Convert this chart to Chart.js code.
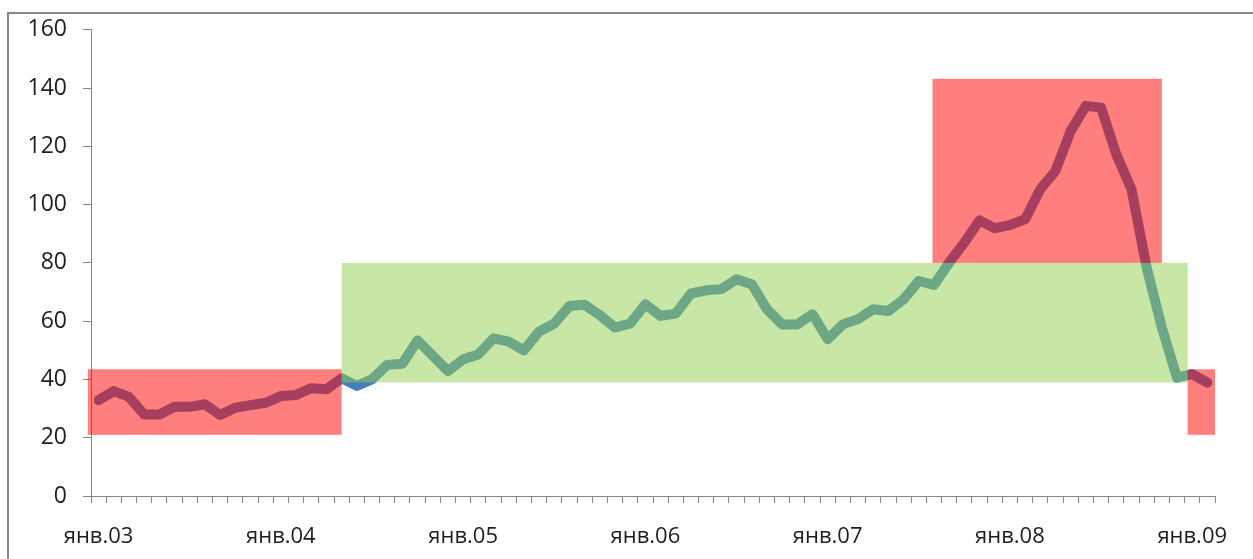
<!DOCTYPE html>
<html>
<head>
<meta charset="utf-8">
<script src="https://cdn.jsdelivr.net/npm/chart.js@4"></script>
<style>
  html, body { margin: 0; padding: 0; background: #fff; }
  #wrap { position: relative; width: 1253px; height: 559px; }
</style>
</head>
<body>
<div id="wrap"><canvas id="c" width="1253" height="559"></canvas></div>
<script>
// Monthly categories: Jan 2003 .. Feb 2009
const months = [
  '2003-01','2003-02','2003-03','2003-04','2003-05','2003-06','2003-07','2003-08','2003-09','2003-10','2003-11','2003-12',
  '2004-01','2004-02','2004-03','2004-04','2004-05','2004-06','2004-07','2004-08','2004-09','2004-10','2004-11','2004-12',
  '2005-01','2005-02','2005-03','2005-04','2005-05','2005-06','2005-07','2005-08','2005-09','2005-10','2005-11','2005-12',
  '2006-01','2006-02','2006-03','2006-04','2006-05','2006-06','2006-07','2006-08','2006-09','2006-10','2006-11','2006-12',
  '2007-01','2007-02','2007-03','2007-04','2007-05','2007-06','2007-07','2007-08','2007-09','2007-10','2007-11','2007-12',
  '2008-01','2008-02','2008-03','2008-04','2008-05','2008-06','2008-07','2008-08','2008-09','2008-10','2008-11','2008-12',
  '2009-01','2009-02'
];
// Tick labels shown at each January
const janLabels = ['янв.03','янв.04','янв.05','янв.06','янв.07','янв.08','янв.09'];

// Price series
const prices = [
  32.9, 36.0, 34.0, 28.0, 28.0, 30.6, 30.6, 31.5, 27.8, 30.3, 31.2, 32.0,
  34.3, 34.7, 37.0, 36.6, 40.4, 37.8, 40.0, 45.0, 45.4, 53.4, 48.1, 42.9,
  46.9, 48.6, 54.1, 53.0, 50.0, 56.4, 59.2, 65.2, 65.6, 62.1, 57.8, 59.2,
  65.8, 61.8, 62.6, 69.5, 70.6, 71.0, 74.4, 72.7, 64.1, 58.9, 58.9, 62.4,
  53.8, 58.9, 60.7, 64.1, 63.5, 67.5, 73.8, 72.4, 80.1, 87.0, 94.6, 91.9,
  93.0, 95.0, 105.3, 111.6, 125.3, 133.9, 133.3, 117.3, 105.3, 78.4, 57.8, 40.6,
  41.8, 38.9
];

// Highlight zones, in category-index units (x) and value units (y)
const zoneXStart = [-0.7, 16.0, 54.9, 71.7];
const zoneXEnd   = [16.0, 71.7, 70.0, 73.5];
const zoneYLow   = [21.0, 39.0, 80.0, 21.0];
const zoneYHigh  = [43.5, 80.0, 143.2, 43.5];
const zoneColors = ['rgba(255,0,0,0.5)','rgba(146,208,80,0.5)','rgba(255,0,0,0.5)','rgba(255,0,0,0.5)'];

const yTicks = [0, 20, 40, 60, 80, 100, 120, 140, 160];

const FONT = "'Open Sans', 'DejaVu Sans', sans-serif";
const AXIS = '#868686';

const zonesPlugin = {
  id: 'zones',
  afterDatasetsDraw(chart) {
    const {ctx, scales: {x, y}} = chart;
    ctx.save();
    for (let i = 0; i < zoneXStart.length; i++) {
      const x0 = x.getPixelForValue(zoneXStart[i]);
      const x1 = x.getPixelForValue(zoneXEnd[i]);
      const y0 = y.getPixelForValue(zoneYHigh[i]);
      const y1 = y.getPixelForValue(zoneYLow[i]);
      ctx.fillStyle = zoneColors[i];
      ctx.fillRect(x0, y0, x1 - x0, y1 - y0);
    }
    ctx.restore();
  }
};

const framePlugin = {
  id: 'frame',
  beforeDraw(chart) {
    const ctx = chart.ctx;
    ctx.save();
    ctx.strokeStyle = '#898989';
    ctx.lineWidth = 2;
    ctx.beginPath();
    ctx.moveTo(8, 600);
    ctx.lineTo(8, 13);
    ctx.lineTo(1300, 13);
    ctx.stroke();
    ctx.restore();
  }
};

new Chart(document.getElementById('c'), {
  type: 'line',
  data: {
    labels: months,
    datasets: [{
      data: prices,
      borderColor: '#4A7EBB',
      borderWidth: 10,
      borderCapStyle: 'round',
      borderJoinStyle: 'round',
      pointRadius: 0,
      tension: 0,
      fill: false
    }]
  },
  options: {
    responsive: false,
    animation: false,
    events: [],
    layout: { padding: { left: 0, right: 38, top: 29, bottom: 0 } },
    plugins: { legend: { display: false }, tooltip: { enabled: false } },
    scales: {
      x: {
        type: 'category',
        offset: true,
        border: { color: AXIS, width: 1 },
        grid: { offset: true, drawOnChartArea: false, drawTicks: true, tickLength: 7, color: AXIS, lineWidth: 1 },
        ticks: {
          autoSkip: false, maxRotation: 0, minRotation: 0, padding: 21,
          color: '#1e1e1e', font: { family: FONT, size: 22 },
          callback: (v, i) => (i % 12 === 0 ? janLabels[i / 12] : '')
        },
        afterFit(s) { s.height = 63; }
      },
      y: {
        min: 0, max: 160,
        border: { color: AXIS, width: 1 },
        grid: { drawOnChartArea: false, drawTicks: true, tickLength: 8, color: AXIS, lineWidth: 1 },
        afterBuildTicks(s) { s.ticks = yTicks.map(v => ({ value: v })); },
        ticks: { padding: 16, color: '#1e1e1e', font: { family: FONT, size: 23 } },
        afterFit(s) { s.width = 91; }
      }
    }
  },
  plugins: [framePlugin, zonesPlugin]
});
</script>
</body>
</html>
